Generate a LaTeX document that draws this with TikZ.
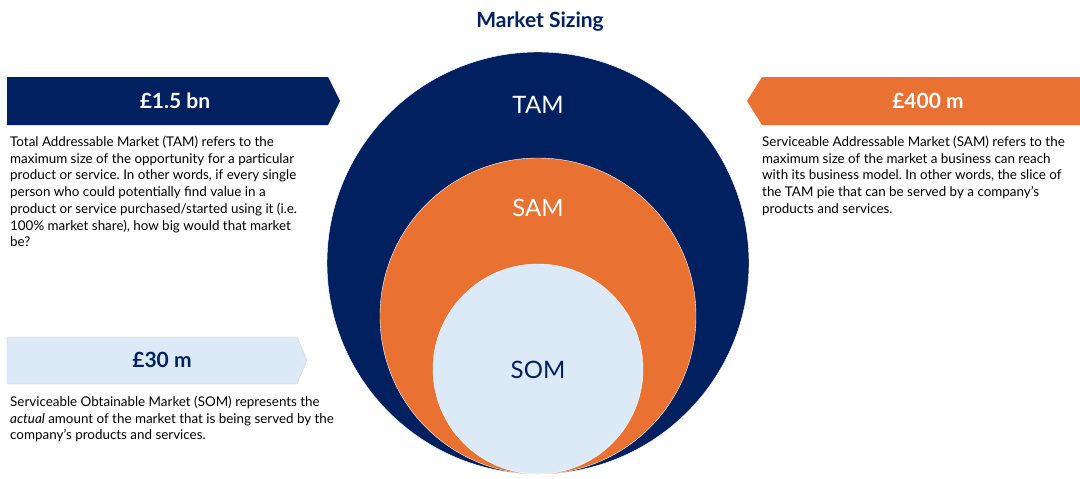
\documentclass[tikz,border=0pt]{standalone}
\usepackage{fontspec}
\setmainfont{Lato}
\usepackage{xcolor}
\frenchspacing

\definecolor{tamblue}{HTML}{002060}
\definecolor{samorange}{HTML}{E97132}
\definecolor{somblue}{HTML}{DCEAF7}

\tikzset{
    bodytext/.style={anchor=north west, align=left, inner sep=0pt,
        font=\fontsize{13.4}{16.7}\selectfont, text=black},
    figtext/.style={font=\fontsize{21}{24}\selectfont\bfseries, inner sep=0pt},
    ringtext/.style={font=\fontsize{24}{28}\selectfont, inner sep=0pt},
}

\begin{document}
\begin{tikzpicture}[x=1pt,y=-1pt]

\useasboundingbox (0,0) rectangle (1080,479);

\node (title) at (540,22) [font=\fontsize{21}{24}\selectfont\bfseries, text=tamblue] {Market Sizing};

% the three rings, all touching at the bottom
\coordinate (ctam) at (538,263);
\coordinate (csam) at (538,316);
\coordinate (csom) at (538,369);

\draw [white, fill=tamblue] (ctam) circle [radius=211];
\draw [white, fill=samorange] (csam) circle [radius=158];
\draw [white, fill=somblue] (csom) circle [radius=105];

\node (tam) at (538,105) [ringtext, text=white] {TAM};
\node (sam) at (538,208) [ringtext, text=white] {SAM};
\node (som) at (538,370) [ringtext, text=tamblue] {SOM};

% banners
\fill [tamblue] (7,77) -- (328,77) -- (340,101) -- (328,125) -- (7,125) -- cycle;
\fill [samorange] (1080,77) -- (762,77) -- (747,101) -- (762,125) -- (1080,125) -- cycle;
\draw [gray!35, fill=somblue] (7,337) -- (297,337) -- (307,360) -- (297,384) -- (7,384) -- cycle;

\node (tamval) at (175,101) [figtext, text=white] {£1.5 bn};
\node (samval) at (928,101) [figtext, text=white] {£400 m};
\node (somval) at (162,360) [figtext, text=tamblue] {£30 m};

% descriptions
\node (tamdesc) at (10,136) [bodytext] {Total Addressable Market (TAM) refers to the\\
maximum size of the opportunity for a particular\\
product or service. In other words, if every single\\
person who could potentially find value in a\\
product or service purchased/started using it (i.e.\\
100\% market share), how big would that market\\
be?};

\node (samdesc) at (762,136) [bodytext] {Serviceable Addressable Market (SAM) refers to the\\
maximum size of the market a business can reach\\
with its business model. In other words, the slice of\\
the TAM pie that can be served by a company’s\\
products and services.};

\node (somdesc) at (10,396) [bodytext] {Serviceable Obtainable Market (SOM) represents the\\
\textit{actual} amount of the market that is being served by the\\
company’s products and services.};

\end{tikzpicture}
\end{document}
